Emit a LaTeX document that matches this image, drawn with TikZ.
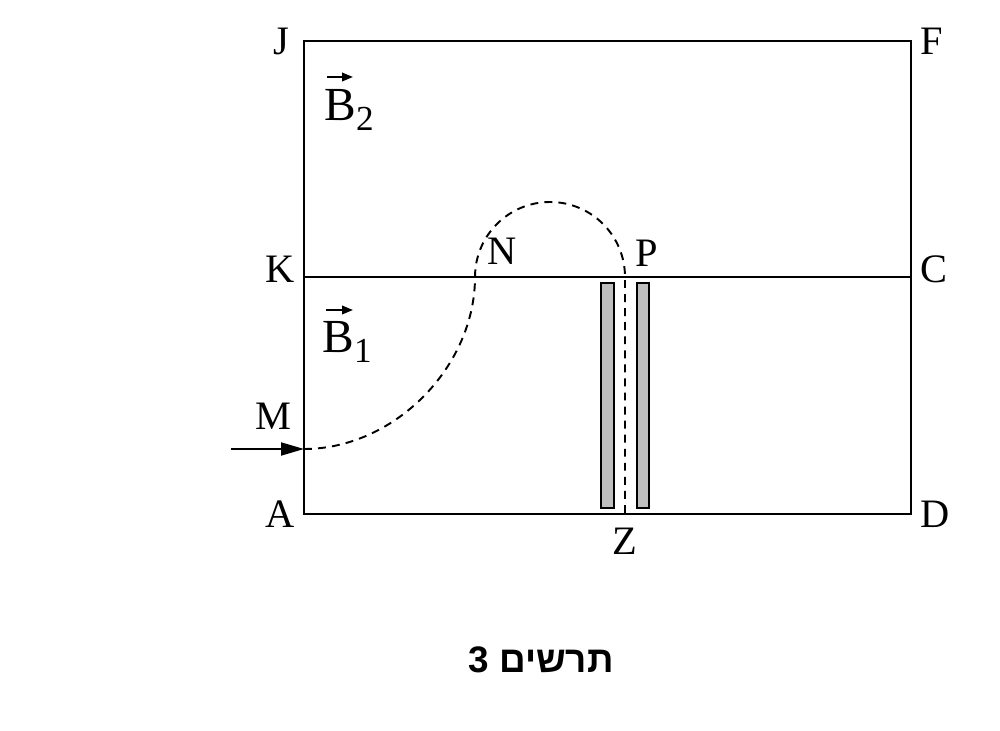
\documentclass[tikz,border=0pt]{standalone}
\usepackage{amsmath}
\usepackage{fontspec}
\setmainfont{Liberation Serif}
\newfontfamily\hebfont[Script=Hebrew]{Liberation Sans}
\TeXXeTstate=1
\usepackage{tikz}
\usetikzlibrary{arrows.meta}

\newcommand{\fieldlabel}[1]{B\raisebox{-2mm}{\fontsize{20}{24}\selectfont #1}}
\tikzset{fieldarrow/.style={line width=1.2pt, -{Triangle[length=2.2mm, width=1.7mm]}}}

\begin{document}
\begin{tikzpicture}[font=\fontsize{23}{27}\selectfont, line width=1.1pt, label distance=0.5mm]
        \useasboundingbox (0, 0) rectangle (20, 14.6);

        \coordinate[label={[xshift=-1mm]180:J}] (J) at (6.08, 13.78);
        \coordinate[label={0:F}] (F) at (18.22, 13.78);
        \coordinate[label={[yshift=1.5mm]180:K}] (K) at (6.08, 9.06);
        \coordinate[label={[yshift=1.5mm]0:C}] (C) at (18.22, 9.06);
        \coordinate[label={180:A}] (A) at (6.08, 4.32);
        \coordinate[label={0:D}] (D) at (18.22, 4.32);
        \coordinate[label={[label distance=1.5mm, yshift=1.4mm]135:M}] (M) at (6.08, 5.62);
        \coordinate[label={[label distance=1.5mm]45:N}] (N) at (9.5, 9.06);
        \coordinate[label={[label distance=1mm]45:P}] (P) at (12.5, 9.06);
        \coordinate[label={[label distance=1.5mm]270:Z}] (Z) at (12.5, 4.32);
        \coordinate (in) at (4.62, 5.62);

        \node[font=\fontsize{27}{31}\selectfont] (b2) at (6.98, 12.4) {\fieldlabel{2}};
        \node[font=\fontsize{27}{31}\selectfont] (b1) at (6.94, 7.76) {\fieldlabel{1}};
        \draw[fieldarrow] (6.54, 13.06) -- (7.06, 13.06);
        \draw[fieldarrow] (6.52, 8.4) -- (7.06, 8.4);

        \draw (A) -- (D) -- (F) -- (J) -- cycle;
        \draw (K) -- (C);

        \draw[fill=gray!50] (12.02, 4.44) rectangle (12.28, 8.94);
        \draw[fill=gray!50] (12.74, 4.44) rectangle (12.98, 8.94);

        \draw[dash pattern=on 4.5pt off 3.5pt] (M) .. controls (7.88, 5.62) and (9.5, 7.26) .. (N)
                arc (180:0:1.5) -- (Z);

        \draw[-{Triangle[length=4.6mm, width=2.6mm]}] (in) -- (M);

        \node[font=\fontsize{21}{25}\selectfont\hebfont\bfseries] (cap) at (10.82, 1.4) {\beginR תרשים 3\endR};
    \end{tikzpicture}
\end{document}
